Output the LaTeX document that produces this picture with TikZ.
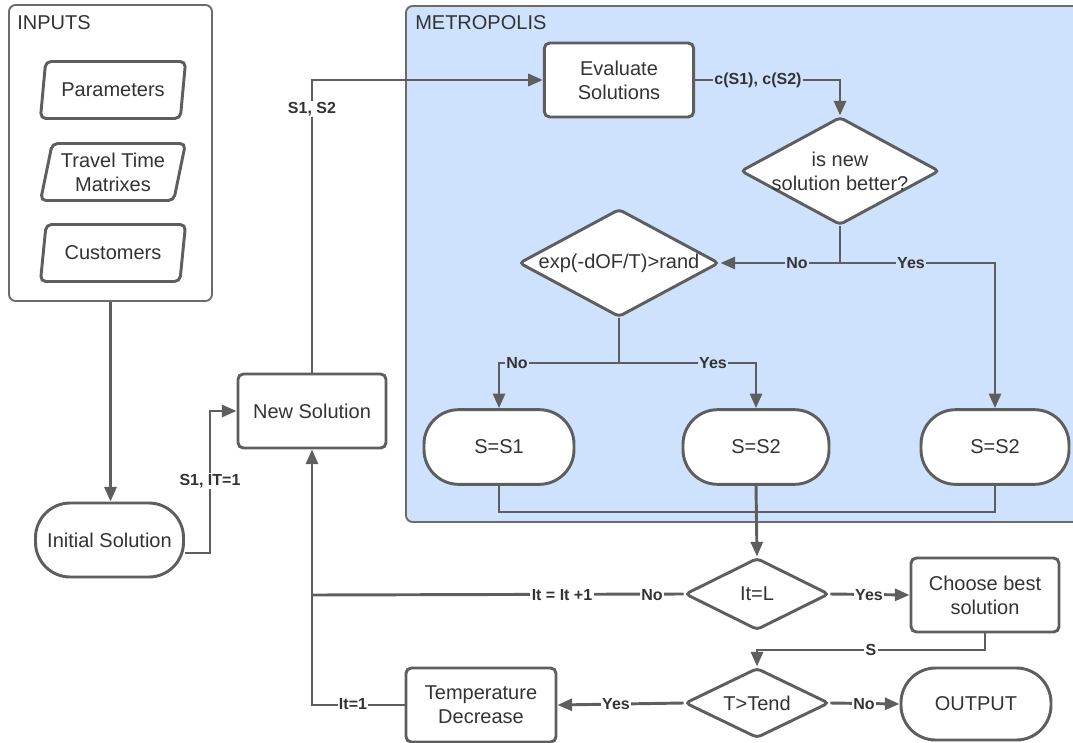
\documentclass[tikz,border=0pt]{standalone}
\usepackage{fontspec}
\setmainfont{Liberation Sans}
\usetikzlibrary{shapes.geometric,arrows.meta}
\definecolor{linegray}{HTML}{5E5E5E}
\definecolor{txtgray}{HTML}{333333}
\definecolor{metroblue}{HTML}{CFE2FD}
\definecolor{framegray}{HTML}{6B6B6B}

\begin{document}
\begin{tikzpicture}[x=0.75pt,y=-0.75pt,
  font=\fontsize{15}{18}\selectfont, text=txtgray,
  box/.style={draw=linegray,line width=2.2pt,fill=white,rounded corners=4pt,
    minimum width=111pt,minimum height=55.5pt,align=center,inner sep=2pt},
  pill/.style={box,rounded corners=26pt},
  data/.style={trapezium,trapezium left angle=76,trapezium right angle=104,
    trapezium stretches=true,draw=linegray,line width=2.2pt,fill=white,
    rounded corners=4pt,minimum width=109.5pt,minimum height=42.75pt,
    align=center,inner sep=1pt},
  decision/.style={diamond,draw=linegray,line width=2.2pt,fill=white,
    rounded corners=3pt,align=center,inner sep=0pt},
  flow/.style={draw=linegray,line width=2.2pt,-{Triangle[length=11pt,width=9pt]}},
  link/.style={draw=linegray,line width=2.2pt},
  merge/.style={draw=linegray,line width=1.4pt},
  tag/.style={font=\bfseries\fontsize{12}{14}\selectfont,inner sep=1pt,fill=white},
  tagb/.style={tag,fill=metroblue},
  container/.style={draw=framegray,line width=1.4pt,rounded corners=5pt,inner sep=0pt},
  title/.style={anchor=west,inner sep=0pt}
]
\useasboundingbox (0,0) rectangle (1073,742);
\clip (0,0) rectangle (1073,742);

% groups
\node[container,minimum width=152.25pt,minimum height=222pt] (inputs) at (110.5,153) {};
\node[container,fill=metroblue,minimum width=509.25pt,minimum height=387pt] (metro) at (745.5,264) {};
\node[title] (inputsT) at (17,23) {INPUTS};
\node[title] (metroT) at (415,23) {METROPOLIS};

% input data
\node[data] (par) at (113,90) {Parameters};
\node[data] (ttm) at (113,172) {Travel Time\\Matrixes};
\node[data] (cus) at (113,253) {Customers};

% main flow
\node[pill] (init) at (109.5,540) {Initial Solution};
\node[box] (new) at (312,411) {New Solution};
\node[box,minimum width=112pt] (eval) at (619,80) {Evaluate\\Solutions};
\node[decision,shape aspect=1.84,inner sep=-3pt,minimum width=149pt,minimum height=81pt] (better) at (840,171) {is new\\solution better?};
\node[decision,shape aspect=1.85,minimum width=150pt,minimum height=81pt] (accept) at (619,263) {exp(-dOF/T)>rand};
\node[pill,minimum width=112.5pt,minimum height=56pt] (s1) at (499,447) {S=S1};
\node[pill,minimum width=109.5pt,minimum height=56pt] (s2a) at (756,447) {S=S2};
\node[pill,minimum width=111pt,minimum height=56pt] (s2b) at (995,447) {S=S2};
\node[decision,shape aspect=2,minimum width=108pt,minimum height=54pt] (itl) at (757,594) {It=L};
\node[box] (best) at (985,595) {Choose best\\solution};
\node[decision,shape aspect=2.06,minimum width=108pt,minimum height=52.5pt] (tend) at (757,703) {T>Tend};
\node[pill,minimum width=112.5pt,minimum height=54pt] (out) at (976,704) {OUTPUT};
\node[box,minimum width=112.5pt] (temp) at (481,705) {Temperature\\Decrease};

% junction points
\coordinate (r1) at (210,553);
\coordinate (b1) at (840,263);
\coordinate (a1) at (619,363);
\coordinate (m1) at (0,512);
\coordinate (n1) at (312,595);
\coordinate (c1) at (0,650);

% connectors
\draw[flow] (inputs.south) -- (inputs.south |- init.north);
\draw[flow] (init.east |- r1) -- (r1) |- (new.west);
\draw[flow] (new.north) |- (eval.west);
\draw[flow] (eval.east) -| (better.north);
\draw[link] (better.south) -- (b1);
\draw[flow] (b1) -- (accept.east);
\draw[flow] (b1) -| (s2b.north);
\draw[link] (accept.south) -- (a1);
\draw[flow] (a1) -| (s1.north);
\draw[flow] (a1) -| (s2a.north);
\draw[merge] (s1.south) -- (s1.south |- m1) -- (s2b.south |- m1) -- (s2b.south);
\draw[flow] (s2a.south) -- (itl.north);
\draw[flow] (itl.east) -- (best.west);
\draw[link] (itl.west) -- (n1);
\draw[flow] (best.south) -- (best.south |- c1) -| (tend.north);
\draw[flow] (tend.east) -- (out.west);
\draw[flow] (tend.west) -- (temp.east);
\draw[flow] (temp.west) -| (new.south);

% connector labels
\node[tag] (lInit) at (210,481) {S1, IT=1};
\node[tag] (lNew) at (312,109) {S1, S2};
\node[tagb] (lEval) at (758,80) {c(S1), c(S2)};
\node[tagb] (lNo1) at (797,263) {No};
\node[tagb] (lYes1) at (911,263) {Yes};
\node[tagb] (lNo2) at (517,363) {No};
\node[tagb] (lYes2) at (713,363) {Yes};
\node[tag] (lNo3) at (652,595) {No};
\node[tag] (lIter) at (562,595) {It = It +1};
\node[tag] (lYes3) at (869,595) {Yes};
\node[tag] (lS) at (871,650) {S};
\node[tag] (lNo4) at (864,704) {No};
\node[tag] (lYes4) at (616,704) {Yes};
\node[tag] (lReset) at (353,704) {It=1};
\end{tikzpicture}
\end{document}
